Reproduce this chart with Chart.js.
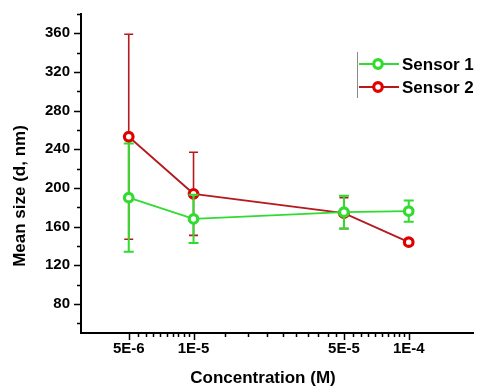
<!DOCTYPE html>
<html>
<head>
<meta charset="utf-8">
<script src="https://cdn.jsdelivr.net/npm/chart.js@4/dist/chart.umd.min.js"></script>
<style>
  html, body { margin: 0; padding: 0; background: #fff; }
  #wrap { width: 481px; height: 387px; }
</style>
</head>
<body>
<div id="wrap"><canvas id="sizeChart" width="481" height="387"></canvas></div>
<script>
// --- data ---
const concentrations = [5e-6, 1e-5, 5e-5, 1e-4];
const sensor1Mean = [190, 168, 175, 176];
const sensor1Err = [56, 25, 17, 11];
const sensor2Mean = [253, 194, 174, 144];
const sensor2Err = [106, 43, 16, 3];

const xTickValues = [5e-6, 1e-5, 5e-5, 1e-4];
const xTickLabels = ['5E-6', '1E-5', '5E-5', '1E-4'];
const yTickValues = [80, 120, 160, 200, 240, 280, 320, 360];
const yMinorValues = [60, 100, 140, 180, 220, 260, 300, 340, 380];

const FONT = '"Liberation Sans", Arial, sans-serif';
const GREEN = '#2fdc2f';
const RED_LINE = '#b51a1e';
const RED_MARK = '#e00000';

const toPoints = (means) => concentrations.map((c, i) => ({ x: c, y: means[i] }));

// error bars, drawn just before each dataset so the markers sit on top
const errorBars = {
    id: 'errorBars',
    beforeDatasetDraw(chart, args) {
        const ds = chart.data.datasets[args.index];
        if (!ds.errors) return;
        const ctx = chart.ctx;
        const xs = chart.scales.x, ys = chart.scales.y;
        ctx.save();
        ctx.strokeStyle = ds.errorColor;
        ctx.lineWidth = ds.errorWidth;
        ds.data.forEach((p, i) => {
            const e = ds.errors[i];
            const px = xs.getPixelForValue(p.x);
            const top = ys.getPixelForValue(p.y + e);
            const bot = ys.getPixelForValue(p.y - e);
            ctx.beginPath();
            ctx.moveTo(px, top); ctx.lineTo(px, bot);
            ctx.moveTo(px - ds.capHalf, top); ctx.lineTo(px + ds.capHalf, top);
            ctx.moveTo(px - ds.capHalf, bot); ctx.lineTo(px + ds.capHalf, bot);
            ctx.stroke();
        });
        ctx.restore();
    }
};

// tick marks, axis titles and the framed legend
const decorations = {
    id: 'decorations',
    afterDraw(chart) {
        const ctx = chart.ctx;
        const xs = chart.scales.x, ys = chart.scales.y;
        const area = chart.chartArea;
        ctx.save();
        ctx.strokeStyle = '#000';
        ctx.lineWidth = 1.5;

        // y ticks (outside, to the left)
        ctx.beginPath();
        yTickValues.forEach(v => {
            const py = Math.round(ys.getPixelForValue(v)) + 0.5;
            ctx.moveTo(area.left - 7, py); ctx.lineTo(area.left, py);
        });
        yMinorValues.forEach(v => {
            const py = Math.round(ys.getPixelForValue(v)) + 0.5;
            ctx.moveTo(area.left - 4, py); ctx.lineTo(area.left, py);
        });
        // x ticks (outside, below); minor ticks split each major gap in ten
        xTickValues.forEach((v, i) => {
            const px = Math.round(xs.getPixelForValue(v)) + 0.5;
            ctx.moveTo(px, area.bottom); ctx.lineTo(px, area.bottom + 7);
            const next = xTickValues[i + 1];
            if (next === undefined) return;
            for (let k = 1; k < 10; k++) {
                const mv = v + (next - v) * k / 10;
                const mx = Math.round(xs.getPixelForValue(mv)) + 0.5;
                ctx.moveTo(mx, area.bottom); ctx.lineTo(mx, area.bottom + 4);
            }
        });
        ctx.stroke();

        // axis titles
        ctx.fillStyle = '#000';
        ctx.font = 'bold 17px ' + FONT;
        ctx.textAlign = 'center';
        ctx.textBaseline = 'middle';
        ctx.fillText('Concentration (M)', 263, 378);
        ctx.save();
        ctx.translate(20, 196);
        ctx.rotate(-Math.PI / 2);
        ctx.fillText('Mean size (d, nm)', 0, 0);
        ctx.restore();

        // legend
        ctx.strokeStyle = '#8a8a8a';
        ctx.lineWidth = 1;
        ctx.beginPath();
        ctx.moveTo(357.5, 52); ctx.lineTo(357.5, 98);
        ctx.stroke();
        const items = [
            { label: chart.data.datasets[0].label, line: GREEN, mark: GREEN, y: 64 },
            { label: chart.data.datasets[1].label, line: RED_LINE, mark: RED_MARK, y: 87 }
        ];
        items.forEach(it => {
            ctx.strokeStyle = it.line;
            ctx.lineWidth = 1.8;
            ctx.beginPath();
            ctx.moveTo(359, it.y); ctx.lineTo(399, it.y);
            ctx.stroke();
            ctx.beginPath();
            ctx.arc(378, it.y, 4.3, 0, Math.PI * 2);
            ctx.fillStyle = '#fff';
            ctx.fill();
            ctx.strokeStyle = it.mark;
            ctx.lineWidth = 3.2;
            ctx.stroke();
            ctx.fillStyle = '#000';
            ctx.font = 'bold 17px ' + FONT;
            ctx.textAlign = 'left';
            ctx.fillText(it.label, 402, it.y + 1);
        });
        ctx.restore();
    }
};

new Chart(document.getElementById('sizeChart'), {
    type: 'line',
    data: {
        datasets: [
            {
                label: 'Sensor 1',
                data: toPoints(sensor1Mean),
                errors: sensor1Err,
                errorColor: GREEN,
                errorWidth: 2,
                capHalf: 5,
                borderColor: GREEN,
                borderWidth: 1.8,
                pointRadius: 4.3,
                pointBorderWidth: 3.2,
                pointBorderColor: GREEN,
                pointBackgroundColor: '#fff',
                tension: 0
            },
            {
                label: 'Sensor 2',
                data: toPoints(sensor2Mean),
                errors: sensor2Err,
                errorColor: RED_LINE,
                errorWidth: 1.6,
                capHalf: 4.5,
                borderColor: RED_LINE,
                borderWidth: 1.8,
                pointRadius: 4.3,
                pointBorderWidth: 3.2,
                pointBorderColor: RED_MARK,
                pointBackgroundColor: '#fff',
                tension: 0
            }
        ]
    },
    options: {
        responsive: false,
        animation: false,
        layout: { padding: { left: 0, top: 14, right: 1, bottom: 0 } },
        plugins: {
            legend: { display: false },
            tooltip: { enabled: false }
        },
        scales: {
            x: {
                type: 'logarithmic',
                min: 3e-6,
                max: 2e-4,
                afterBuildTicks: (scale) => { scale.ticks = xTickValues.map(v => ({ value: v })); },
                afterFit: (scale) => {
                    scale.height = 54;
                    scale.paddingLeft = 0;
                    scale.paddingRight = 0;
                },
                ticks: {
                    autoSkip: false,
                    maxRotation: 0,
                    padding: 7,
                    color: '#000',
                    font: { family: FONT, size: 15, weight: 'bold' },
                    callback: (v, i) => xTickLabels[i]
                },
                grid: { display: false, drawTicks: false },
                border: { display: true, color: '#000', width: 2 }
            },
            y: {
                min: 50,
                max: 380,
                afterBuildTicks: (scale) => { scale.ticks = yTickValues.map(v => ({ value: v })); },
                afterFit: (scale) => {
                    scale.width = 81;
                    scale.paddingTop = 0;
                    scale.paddingBottom = 0;
                },
                ticks: {
                    padding: 11,
                    color: '#000',
                    font: { family: FONT, size: 15, weight: 'bold' }
                },
                grid: { display: false, drawTicks: false },
                border: { display: true, color: '#000', width: 2 }
            }
        }
    },
    plugins: [errorBars, decorations]
});
</script>
</body>
</html>
